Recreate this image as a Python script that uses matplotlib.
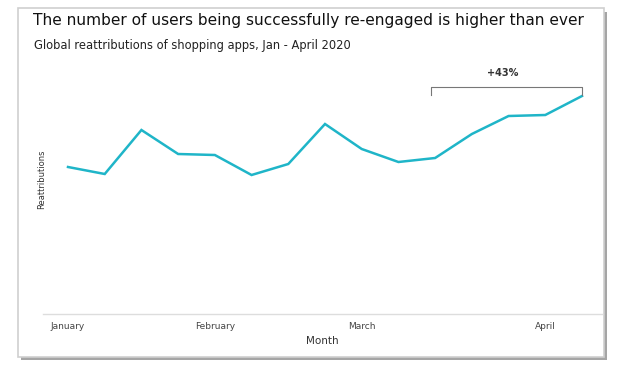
import matplotlib
matplotlib.use("Agg")
import matplotlib.pyplot as plt
from matplotlib.patches import Rectangle

weeks = list(range(15))
reattributions = [147, 140, 184, 160, 159, 139, 150, 190, 165, 152, 156, 180, 198, 199, 218]
tick_positions = [0, 4, 8, 13]
tick_labels = ["January", "February", "March", "April"]
bracket_start, bracket_end = 10, 14
bracket_label = "+43%"

W, H = 622, 370
fig = plt.figure(figsize=(W / 100, H / 100), dpi=100)
fig.patch.set_facecolor("white")

def fx(px):
    return px / W

def fy(py):
    return 1 - py / H

# card shadow and border
fig.patches.append(Rectangle((fx(21), fy(360)), fx(586), (357 - 9) / H, transform=fig.transFigure,
                             facecolor="#a5a5a5", edgecolor="none", zorder=0))
fig.patches.append(Rectangle((fx(18), fy(357)), fx(586), (357 - 8) / H, transform=fig.transFigure,
                             facecolor="white", edgecolor="#cfcfcf", linewidth=1.2, zorder=1))

x0, x1 = 43, 602
y_top, y_bot = 60, 314
ax = fig.add_axes([fx(x0), fy(y_bot), fx(x1 - x0), (y_bot - y_top) / H])
ax.set_zorder(2)
ax.patch.set_alpha(0)

ax.plot(weeks, reattributions, color="#1fb5c8", linewidth=1.8, solid_joinstyle="miter")

sp = (582 - 68) / 14
ax.set_xlim(-(68 - x0) / sp, 14 + (x1 - 582) / sp)
ax.set_ylim(0, y_bot - y_top)

for s in ["top", "right", "left"]:
    ax.spines[s].set_visible(False)
ax.spines["bottom"].set_color("#dddddd")
ax.spines["bottom"].set_linewidth(1)
ax.set_yticks([])
ax.set_xticks(tick_positions)
ax.set_xticklabels(tick_labels, fontsize=6.5, color="#444444", family="Liberation Sans Narrow")
ax.tick_params(axis="x", length=0, pad=6)
ax.set_xlabel("Month", fontsize=7.5, color="#333333", labelpad=3, family="Liberation Sans Narrow")
ax.set_ylabel("Reattributions", fontsize=6, color="#333333", family="Liberation Sans Narrow",
              va="center")
ax.yaxis.set_label_coords(-0.002, (314 - 179) / (y_bot - y_top))

# bracket
by_top, by_bot = 314 - 87, 314 - 95
ax.plot([bracket_start - 0.1, bracket_start - 0.1, bracket_end, bracket_end],
        [by_bot, by_top, by_top, by_bot], color="#777777", linewidth=0.8, clip_on=False)
ax.text((bracket_start + bracket_end) / 2 - 0.15, 314 - 73, bracket_label, ha="center", va="center",
        fontsize=7, color="#333333", fontweight="bold")

fig.text(fx(33), fy(21), "The number of users being successfully re-engaged is higher than ever",
         fontsize=11.05, color="#111111", va="center", ha="left", family="DejaVu Sans", zorder=3)
fig.text(fx(34), fy(46), "Global reattributions of shopping apps, Jan - April 2020",
         fontsize=8.3, color="#222222", va="center", ha="left", family="Liberation Sans Narrow", zorder=3)

fig.savefig("out.png", dpi=100)
